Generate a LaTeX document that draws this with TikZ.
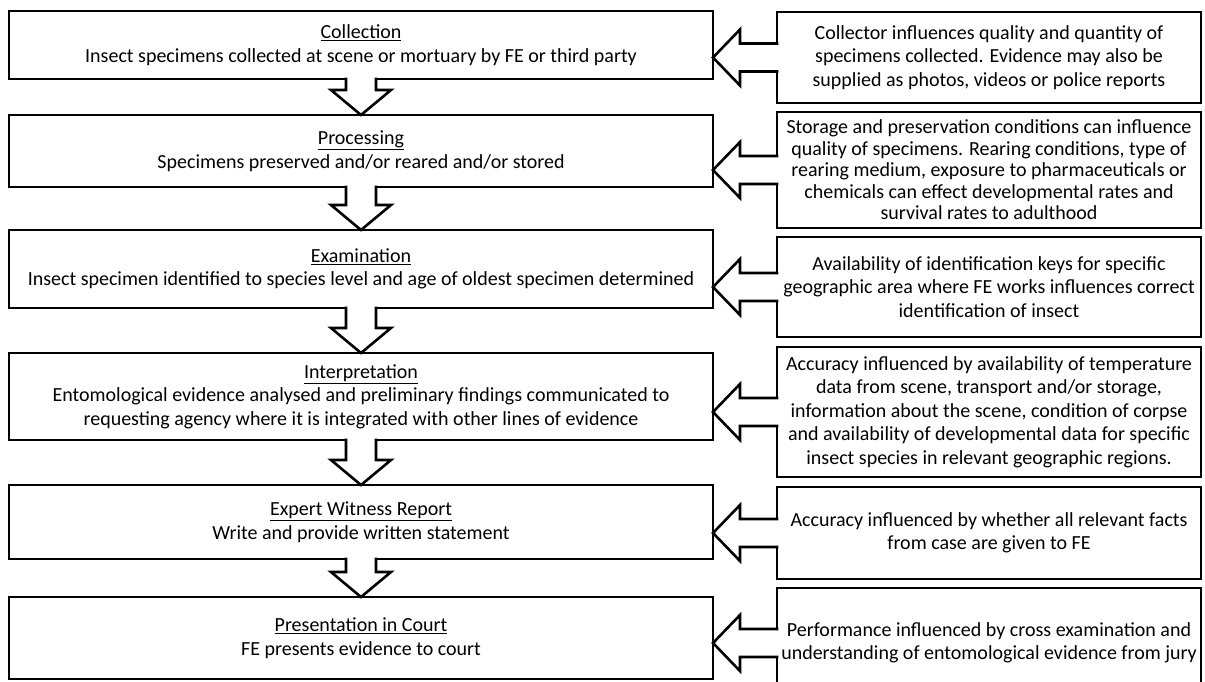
\documentclass[tikz,border=0pt]{standalone}
\usepackage{fontspec}
\setmainfont{Carlito}
\usetikzlibrary{calc}

\begin{document}
\begin{tikzpicture}[x=1pt, y=-1pt,
    font=\fontsize{20}{23.5}\selectfont,
    stage/.style={draw, line width=2.6pt, fill=white, outer sep=0pt, inner sep=0pt, minimum width=704pt, align=center},
    note/.style={draw, line width=2.6pt, fill=white, outer sep=0pt, inner sep=0pt, minimum width=424pt, align=center},
    blockline/.style={line width=2.6pt, line join=miter}]
\useasboundingbox (0,0) rectangle (1205,681);
\clip (0,0) rectangle (1205,681);

% Stages of the case
\node[stage, minimum height=68pt] (st1) at (361,45) {\underline{Collection}\\Insect specimens collected at scene or mortuary by FE or third party};
\node[stage, minimum height=72pt] (st2) at (361,151) {\underline{Processing}\\Specimens preserved and/or reared and/or stored};
\node[stage, minimum height=78pt] (st3) at (361,269) {\underline{Examination}\\Insect specimen identified to species level and age of oldest specimen determined};
\node[stage, minimum height=87pt] (st4) at (361,396.5) {\underline{Interpretation}\\Entomological evidence analysed and preliminary findings communicated to\\requesting agency where it is integrated with other lines of evidence};
\node[stage, minimum height=74pt] (st5) at (361,522) {\underline{Expert Witness Report}\\Write and provide written statement};
\node[stage, minimum height=82pt] (st6) at (361,638) {\underline{Presentation in Court}\\FE presents evidence to court};

% Influencing factors
\node[note, minimum height=91pt] (inf1) at (989,57.5) {Collector influences quality and quantity of\\specimens collected. Evidence may also be\\supplied as photos, videos or police reports};
\node[note, minimum height=116pt, font=\fontsize{20}{21.5}\selectfont] (inf2) at (989,170) {Storage and preservation conditions can influence\\quality of specimens. Rearing conditions, type of\\rearing medium, exposure to pharmaceuticals or\\chemicals can effect developmental rates and\\survival rates to adulthood};
\node[note, minimum height=100pt] (inf3) at (989,287) {Availability of identification keys for specific\\geographic area where FE works influences correct\\identification of insect};
\node[note, minimum height=130pt] (inf4) at (989,412) {Accuracy influenced by availability of temperature\\data from scene, transport and/or storage,\\information about the scene, condition of corpse\\and availability of developmental data for specific\\insect species in relevant geographic regions.};
\node[note, minimum height=92pt] (inf5) at (989,533) {Accuracy influenced by whether all relevant facts\\from case are given to FE};
\node[note, minimum height=110pt] (inf6) at (989,643) {Performance influenced by cross examination and\\understanding of entomological evidence from jury};

% Block arrows down the stages
\foreach \a/\b in {st1/st2, st2/st3, st3/st4, st4/st5, st5/st6} {
    \fill[white] ($(\a.south)+(-15,-2)$) -- ($(\b.north)+(-15,-25)$) -- ($(\b.north)+(-30,-25)$) -- (\b.north)
        -- ($(\b.north)+(30,-25)$) -- ($(\b.north)+(15,-25)$) -- ($(\a.south)+(15,-2)$) -- cycle;
    \draw[blockline] ($(\a.south)+(-15,-1.3)$) -- ($(\b.north)+(-15,-25)$) -- ($(\b.north)+(-30,-25)$) -- (\b.north)
        -- ($(\b.north)+(30,-25)$) -- ($(\b.north)+(15,-25)$) -- ($(\a.south)+(15,-1.3)$);
}

% Block arrows from the factors
\foreach \r/\l in {inf1/st1, inf2/st2, inf3/st3, inf4/st4, inf5/st5, inf6/st6} {
    \coordinate (tip) at (\l.east |- \r.west);
    \fill[white] ($(\r.west)+(2,-14)$) -- ($(tip)+(27,-14)$) -- ($(tip)+(27,-28)$) -- (tip)
        -- ($(tip)+(27,28)$) -- ($(tip)+(27,14)$) -- ($(\r.west)+(2,14)$) -- cycle;
    \draw[blockline] ($(\r.west)+(1.3,-14)$) -- ($(tip)+(27,-14)$) -- ($(tip)+(27,-28)$) -- (tip)
        -- ($(tip)+(27,28)$) -- ($(tip)+(27,14)$) -- ($(\r.west)+(1.3,14)$);
}
\end{tikzpicture}
\end{document}
